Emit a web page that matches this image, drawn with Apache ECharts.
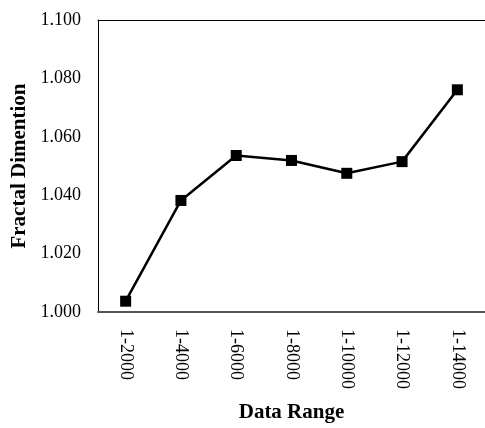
<!DOCTYPE html>
<html>
<head>
<meta charset="utf-8">
<script src="https://cdn.jsdelivr.net/npm/echarts@6/dist/echarts.min.js"></script>
<style>
  html, body { margin: 0; padding: 0; background: #fff; }
  #main { width: 485px; height: 428px; }
</style>
</head>
<body>
<div id="main"></div>
<script>
// data
const ranges = ['1-2000', '1-4000', '1-6000', '1-8000', '1-10000', '1-12000', '1-14000'];
const fractalDim = [1.0037, 1.0382, 1.0536, 1.0519, 1.0475, 1.0515, 1.0761];

const serif = '"Liberation Serif", "Times New Roman", serif';

var myChart = echarts.init(document.getElementById('main'));

const option = {
    animation: false,
    grid: {
        left: 98,
        top: 20,
        width: 389,
        height: 297
    },
    xAxis: [{
        type: 'category',
        data: ranges,
        name: 'Data Range',
        nameLocation: 'middle',
        nameGap: 90,
        nameTextStyle: { fontFamily: serif, fontSize: 21, fontWeight: 'bold', color: '#000' },
        axisLine: { lineStyle: { color: '#555', width: 2 } },
        axisTick: { show: false },
        axisLabel: { rotate: -90, margin: 17, fontFamily: serif, fontSize: 18, color: '#000' }
    }, {
        // top frame line only
        type: 'category',
        position: 'top',
        data: ranges,
        axisLine: { lineStyle: { color: '#000', width: 1 } },
        axisTick: { show: false },
        axisLabel: { show: false }
    }],
    yAxis: {
        type: 'value',
        min: 1.0,
        max: 1.1,
        interval: 0.02,
        name: 'Fractal Dimention',
        nameLocation: 'middle',
        nameGap: 67,
        nameTextStyle: { fontFamily: serif, fontSize: 21, fontWeight: 'bold', color: '#000' },
        axisLine: { show: true, lineStyle: { color: '#000', width: 1 } },
        axisTick: { show: false },
        splitLine: { show: false },
        axisLabel: {
            margin: 17,
            fontFamily: serif,
            fontSize: 18,
            color: '#000',
            formatter: v => v.toFixed(3)
        }
    },
    series: [{
        type: 'line',
        data: fractalDim,
        symbol: 'rect',
        symbolSize: 11,
        itemStyle: { color: '#000' },
        lineStyle: { color: '#000', width: 2.5 }
    }]
};

myChart.setOption(option);
</script>
</body>
</html>
